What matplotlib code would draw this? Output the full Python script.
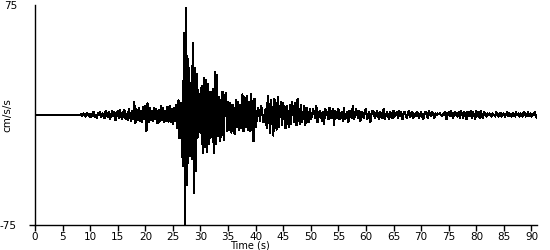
import numpy as np
import matplotlib
matplotlib.use("Agg")
from matplotlib import pyplot as plt

# sample step (s)
dt = 0.2

# acceleration (cm/s/s)
pre_event = [0.0] * 42  # 0 - 8.2 s, flat

p_wave = [0.5, -0.5, 1, 0, -1, 1.5, 0.5, -1, 1, -1.5,
          1, 2, -1, 0, -2, 1.5, 0, 2, -1.5, 1,
          0, -2, 2.5, 1, -1.5, 2, -2.5, 0, 3, -1,
          2, -3.5, 1, 2.5, -2, 3.5, -1, -3, 2, 3.5,
          -2.5, 1, -3.5, 4, 0, -4, 2.5, -3]

pre_s = [8.6, -5.5, 4.0, -3.5, 5.0, -4.0, 3.0, -4.5, 5.5, -3.0,
         6.0, -11.0, 8.0, -5.0, 4.5, -3.5, 3.0, -4.0, 5.0, -3.0,
         4.0, -5.5, 3.5, -4.5, 6.0, -3.5, 4.5, -5.0, 3.0, -4.0,
         5.5, -4.5, 6.0, -5.0, 4.0, -6.0, 5.0, -4.0, 7.0, -9.0]

s_wave = [10, -16, 8, -12, -35, 56, -74, 73, -48, 38,
          -28, 22, -30, 49, -53, 32, -38, 28, -15, 14,
          -12, 20, -26, 25, -22, 24, -25, 21, -20, 16]

late_s = [-15, 18, -26, 29, -20, 27, -14, 12, -18, 10,
          16, -17, 11, 15, -11, 9, -10, 8, -12, 7,
          -9, -13, 10, -8, 9, -10, 7, -9, 14, -11,
          12, -8, 13, -10, 9, -11, 14, -9, -18, 11]

coda_1 = [-8, -3, 5, 2, -4, 6, 1, -5, -2, 4,
          -9, 13, 4, -12, 10, -3, -14, 11, 2, -10,
          12, -8, 3, 9, -7, 8, -2, -9, 6, 1,
          -8, 7, -6, 9, 2, -5, 8, -7, 11, 3,
          -6, 7, -5, 0, 6, -7, 5, -1, -5, 4]

coda_2 = [-3, -1, 4, 2, -2, 6, -5, -1, 3, 1,
          -4, 2, -6, 4, 3, 0, -3, 5, -2, 1,
          4, -7, 3, 1, -2, 4, -3, 0, 2, -4,
          5, -3, -1, 2, -5, 3, 1, -2, 6, -3,
          0, 4, 1, -2, 3, -4, 2, 0, -2, 3,
          4, -3, -1, 2, -5, 1, 3, 2, -2, 0,
          3, -1, -3, 2, 1, -2, 4, -3, 0, 2,
          -1, -3, 2, 1, -2, 3, -1, 0, 2, -2,
          3, -1, 2, -3, 1]

tail = [2, 0, -2, 1, 3, -1, 0, 2, -2, 1,
        -1, 2, 1, -2, 0, 2, -1, -3, 1, 2,
        0, -2, 3, 1, -1, 2, 0, -2, 1, 0,
        1, 0.5, 1, 0, -0.5, 1, 0, 2, -3, 1,
        2, -1, 3, 0, -2, 1, 2, 0, -1, 2,
        -2, 3, 1, -2, 2, 0, -3, 2, 1, -1,
        3, -2, 2, 0, -3, 3, -1, 2, -2, 3,
        0, -2, 2, 1, -1, 1, 0, 1, 0.5, -1,
        1, 0, -1, 2, 0, -1, 1, 1.5, -1, 0,
        1, -1, 0.5, 2, -1, 1, 0, -1, 1.5, 0,
        -1, 2, 0, 1, -1, 1, 0, -1, 2, 1,
        -1, 0, 2, -1, 1, -1, 0, 1, 2, -1,
        -2]

acc = np.array(pre_event + p_wave + pre_s + s_wave + late_s + coda_1 + coda_2 + tail, dtype=float)
t = np.arange(len(acc)) * dt

x_ticks = list(range(0, 95, 5))
y_ticks = [-75, 75]

fig = plt.figure(figsize=(5.5, 2.5), dpi=100)
ax = fig.add_axes([35 / 550, 1 - 225 / 250, 502 / 550, 220 / 250])

ax.plot(t, acc, color="black", lw=0.8, antialiased=False)

ax.set_xlim(0, 91)
ax.set_ylim(-75, 75)
ax.set_xticks(x_ticks)
ax.set_yticks(y_ticks)
ax.set_yticklabels([str(v) for v in y_ticks])

for s in ["top", "right"]:
    ax.spines[s].set_visible(False)
for s in ["left", "bottom"]:
    ax.spines[s].set_linewidth(1.0)

ax.tick_params(axis="x", direction="out", length=4, width=1, pad=1, labelsize=7.5)
ax.tick_params(axis="y", direction="out", length=4, width=1, pad=9, labelsize=7.5)
ax.yaxis.get_major_ticks()[1].tick1line.set_visible(False)
ax.get_yticklabels()[1].set_va("center_baseline")

ax.set_ylabel("cm/s/s", fontsize=7.5)
ax.yaxis.set_label_coords(-0.045, 0.5)
ax.set_xlabel("Time (s)", fontsize=7)
ax.xaxis.set_label_coords(0.428, -0.07)

fig.savefig("out.png", dpi=100)
